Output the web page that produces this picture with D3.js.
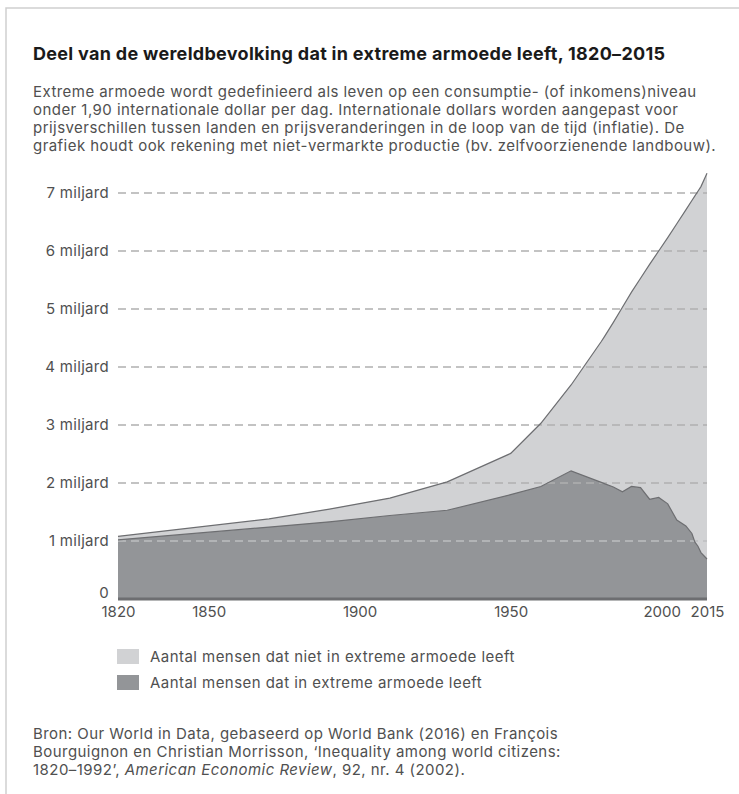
<!DOCTYPE html>
<html><head><meta charset="utf-8">
<script src="https://cdn.jsdelivr.net/npm/d3@7"></script>
<style>
html,body{margin:0;padding:0;background:#fff;}
svg{display:block;font-family:Inter,"Noto Sans",sans-serif;}
</style></head>
<body>
<svg id="c" width="739" height="794"></svg>
<script>
const years    = [1820,1870,1890,1910,1929,1950,1960,1970,1980,1981,1984,1987,1990,1993,1996,1999,2002,2005,2008,2010,2011,2012,2013,2015];
const poor     = [1.02,1.24,1.33,1.44,1.53,1.80,1.94,2.21,2.01,1.99,1.93,1.85,1.94,1.92,1.72,1.75,1.64,1.36,1.26,1.13,0.98,0.91,0.80,0.69];
const notPoor  = [0.06,0.14,0.22,0.30,0.49,0.71,1.09,1.48,2.43,2.53,2.84,3.18,3.35,3.61,4.05,4.25,4.59,5.11,5.45,5.74,5.97,6.12,6.31,6.65];
const yTicks   = [0,1,2,3,4,5,6,7];
const yTickLabels = ["0","1 miljard","2 miljard","3 miljard","4 miljard","5 miljard","6 miljard","7 miljard"];
const xTicks   = [1820,1850,1900,1950,2000,2015];
const seriesNames = ["Aantal mensen dat niet in extreme armoede leeft","Aantal mensen dat in extreme armoede leeft"];
const title = "Deel van de wereldbevolking dat in extreme armoede leeft, 1820–2015";
const subtitle = [
 "Extreme armoede wordt gedefinieerd als leven op een consumptie- (of inkomens)niveau",
 "onder 1,90 internationale dollar per dag. Internationale dollars worden aangepast voor",
 "prijsverschillen tussen landen en prijsveranderingen in de loop van de tijd (inflatie). De",
 "grafiek houdt ook rekening met niet-vermarkte productie (bv. zelfvoorzienende landbouw)."
];

const svg = d3.select("#c");
const cLight = "#d1d2d4", cDark = "#939598", cLine = "#6d6e71", cText = "#505050";
const FS = 15, LS = "0.45px";

// frame
svg.append("path").attr("d","M6,794 L6,8 L739,8").attr("fill","none").attr("stroke","#cfcfcf").attr("stroke-width",1.5);

svg.append("text").attr("x",33).attr("y",60).attr("font-size",18).attr("letter-spacing","0.3px").attr("font-weight",700).attr("fill","#1a1a1a").text(title);
subtitle.forEach((s,i)=>svg.append("text").attr("x",33).attr("y",97+i*18).attr("font-size",FS).attr("letter-spacing",LS).attr("fill",cText).text(s));

const x = d3.scaleLinear().domain([1820,2015]).range([118,707]);
const y = d3.scaleLinear().domain([0,7]).range([599,193]);

const data = years.map((yr,i)=>({year:yr, poor:poor[i], notPoor:notPoor[i]}));
const stack = d3.stack().keys(["poor","notPoor"])(data);

const area = d3.area().x(d=>x(d.data.year)).y0(d=>y(d[0])).y1(d=>y(d[1]));
const line = d3.line().x(d=>x(d.data.year)).y(d=>y(d[1]));

svg.append("path").datum(stack[1]).attr("d",area).attr("fill",cLight);
svg.append("path").datum(stack[0]).attr("d",area).attr("fill",cDark);

// gridlines
yTicks.filter(v=>v>0).forEach(v=>{
  svg.append("line").attr("x1",118).attr("x2",707).attr("y1",y(v)).attr("y2",y(v))
    .attr("stroke", v===1 ? "#bdbec0" : "#b0b0b0").attr("stroke-width",1.5).attr("stroke-dasharray","8,5");
});

svg.append("path").datum(stack[1]).attr("d",line).attr("fill","none").attr("stroke",cLine).attr("stroke-width",1.2);
svg.append("path").datum(stack[0]).attr("d",line).attr("fill","none").attr("stroke",cLine).attr("stroke-width",1.2);

// baseline
svg.append("line").attr("x1",118).attr("x2",707).attr("y1",y(0)).attr("y2",y(0)).attr("stroke",cLine).attr("stroke-width",3);

// y labels
const yAxis = d3.axisLeft(y).tickValues(yTicks).tickSize(0).tickPadding(0).tickFormat((d,i)=>yTickLabels[i]);
const ga = svg.append("g").attr("transform","translate(109,0)").call(yAxis);
ga.select(".domain").remove();
ga.selectAll("text").attr("font-size",FS).attr("letter-spacing","0.3px").attr("fill",cText).attr("font-family","Inter,'Noto Sans',sans-serif");
ga.selectAll(".tick").filter(d=>d===0).select("text").attr("dy","-0.1em");

// x labels
const xAxis = d3.axisBottom(x).tickValues(xTicks).tickSize(0).tickPadding(0).tickFormat(d3.format("d"));
const gx = svg.append("g").attr("transform","translate(0,606)").call(xAxis);
gx.select(".domain").remove();
gx.selectAll("text").attr("font-size",FS).attr("fill",cText).attr("font-family","Inter,'Noto Sans',sans-serif");

// legend
[cLight,cDark].forEach((c,i)=>{
  svg.append("rect").attr("x",117).attr("y",649+i*26).attr("width",22).attr("height",15).attr("fill",c);
  svg.append("text").attr("x",150).attr("y",662+i*26).attr("font-size",FS).attr("letter-spacing",LS).attr("fill",cText).text(seriesNames[i]);
});

// source
const src = svg.append("g").attr("font-size",FS).attr("letter-spacing",LS).attr("fill",cText);
src.append("text").attr("x",33).attr("y",739).text("Bron: Our World in Data, gebaseerd op World Bank (2016) en François");
src.append("text").attr("x",33).attr("y",757).text("Bourguignon en Christian Morrisson, ‘Inequality among world citizens:");
const t3 = src.append("text").attr("x",33).attr("y",775);
t3.append("tspan").text("1820–1992’, ");
t3.append("tspan").attr("font-style","italic").text("American Economic Review");
t3.append("tspan").text(", 92, nr. 4 (2002).");
</script>
</body></html>
